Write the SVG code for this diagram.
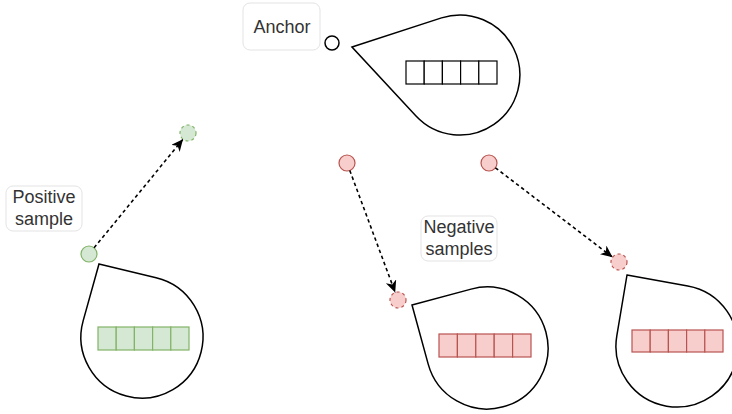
<svg xmlns="http://www.w3.org/2000/svg" width="732" height="414" viewBox="0 0 732 414">
  <defs>
    <marker id="arrow" markerUnits="userSpaceOnUse" markerWidth="13" markerHeight="12" refX="12" refY="5.5" orient="auto">
      <path d="M0,0 L12,5.5 L0,11 L3.5,5.5 Z" fill="#000"/>
    </marker>
    <style>
      .drop { fill: #fff; stroke: #000; stroke-width: 1.5; }
      .label-box { fill: #fff; stroke: #e3e3e3; stroke-width: 1; }
      .label { font-family: "Liberation Sans", Arial, sans-serif; font-size: 18px; fill: #333; text-anchor: middle; dominant-baseline: central; }
      .cell-k { fill: #fff; stroke: #000; stroke-width: 1.2; }
      .cell-g { fill: #d5e8d4; stroke: #82b366; stroke-width: 1.2; }
      .cell-r { fill: #f8cecc; stroke: #b85450; stroke-width: 1.2; }
      .pt-k { fill: #fff; stroke: #000; stroke-width: 1.5; }
      .pt-g { fill: #d5e8d4; stroke: #82b366; stroke-width: 1.2; }
      .pt-r { fill: #f8cecc; stroke: #b85450; stroke-width: 1.2; }
      .dashed { stroke-dasharray: 3 3; }
      .edge { fill: none; stroke: #000; stroke-width: 1.6; stroke-dasharray: 3.5 3; }
    </style>
  </defs>

  <!-- anchor -->
  <g id="anchor-label">
    <rect class="label-box" x="243" y="3" width="77" height="47" rx="7"/>
    <text class="label" x="282" y="26.5">Anchor</text>
  </g>
  <g id="anchor-point">
    <circle class="pt-k" cx="332" cy="43" r="7"/>
  </g>
  <g id="anchor-drop">
    <path class="drop" d="M352,47 L441.5,17.9 A60,60 0 1 1 416,116 Z"/>
    <g class="cell-k">
      <rect x="406" y="61" width="18.2" height="23"/>
      <rect x="424.2" y="61" width="18.2" height="23"/>
      <rect x="442.4" y="61" width="18.2" height="23"/>
      <rect x="460.6" y="61" width="18.2" height="23"/>
      <rect x="478.8" y="61" width="18.2" height="23"/>
    </g>
  </g>

  <!-- positive sample -->
  <g id="positive-label">
    <rect class="label-box" x="6" y="186" width="76" height="45" rx="7"/>
    <text class="label" x="44" y="197">Positive</text>
    <text class="label" x="44" y="219">sample</text>
  </g>
  <g id="positive-point">
    <circle class="pt-g" cx="89" cy="254" r="8"/>
  </g>
  <g id="positive-target">
    <circle class="pt-g dashed" cx="188" cy="133" r="8"/>
  </g>
  <g id="positive-drop">
    <path class="drop" d="M99,264 L156.1,277.7 A61,61 0 1 1 83.2,320.6 Z"/>
    <g class="cell-g">
      <rect x="98" y="327" width="18.2" height="23"/>
      <rect x="116.2" y="327" width="18.2" height="23"/>
      <rect x="134.4" y="327" width="18.2" height="23"/>
      <rect x="152.6" y="327" width="18.2" height="23"/>
      <rect x="170.8" y="327" width="18.2" height="23"/>
    </g>
  </g>

  <!-- negative samples -->
  <g id="negative-label">
    <rect class="label-box" x="421" y="216" width="76" height="45" rx="7"/>
    <text class="label" x="459" y="227">Negative</text>
    <text class="label" x="459" y="249">samples</text>
  </g>
  <g id="negative-point-1">
    <circle class="pt-r" cx="347" cy="163" r="8"/>
  </g>
  <g id="negative-target-1">
    <circle class="pt-r dashed" cx="398" cy="300" r="8"/>
  </g>
  <g id="negative-drop-1">
    <path class="drop" d="M412,305 L471.1,289.1 A61,61 0 1 1 428.2,364.1 Z"/>
    <g class="cell-r">
      <rect x="439" y="334" width="18.4" height="23"/>
      <rect x="457.4" y="334" width="18.4" height="23"/>
      <rect x="475.8" y="334" width="18.4" height="23"/>
      <rect x="494.2" y="334" width="18.4" height="23"/>
      <rect x="512.6" y="334" width="18.4" height="23"/>
    </g>
  </g>
  <g id="negative-point-2">
    <circle class="pt-r" cx="489" cy="163" r="8"/>
  </g>
  <g id="negative-target-2">
    <circle class="pt-r dashed" cx="619" cy="262" r="8"/>
  </g>
  <g id="negative-drop-2">
    <path class="drop" d="M627,275 L687.8,286 A61,61 0 1 1 616.8,335.9 Z"/>
    <g class="cell-r">
      <rect x="632" y="330" width="18.2" height="22"/>
      <rect x="650.2" y="330" width="18.2" height="22"/>
      <rect x="668.4" y="330" width="18.2" height="22"/>
      <rect x="686.6" y="330" width="18.2" height="22"/>
      <rect x="704.8" y="330" width="18.2" height="22"/>
    </g>
  </g>

  <!-- connectors -->
  <g id="connectors">
    <line class="edge" x1="94.1" y1="247.8" x2="183" y2="139.2" marker-end="url(#arrow)"/>
    <line class="edge" x1="349.8" y1="170.5" x2="395.2" y2="292.5" marker-end="url(#arrow)"/>
    <line class="edge" x1="495.4" y1="167.8" x2="612.6" y2="257.2" marker-end="url(#arrow)"/>
  </g>
</svg>
